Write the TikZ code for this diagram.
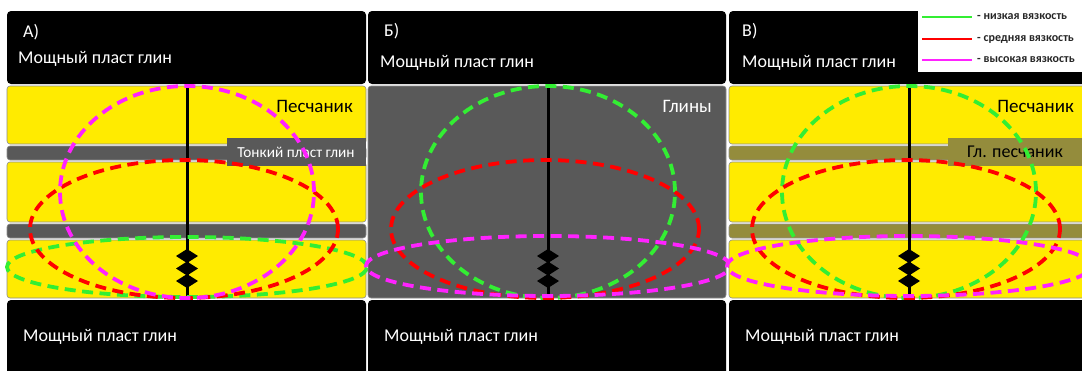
\documentclass[tikz,border=0pt]{standalone}
\usepackage{fontspec}
\setmainfont{Carlito}
\definecolor{sandY}{HTML}{FFEB00}
\definecolor{clayG}{HTML}{595959}
\definecolor{siltO}{HTML}{948C3C}
\definecolor{lowV}{HTML}{33EE33}
\definecolor{midV}{HTML}{FF0000}
\definecolor{highV}{HTML}{FF22FF}
\tikzset{
  shale/.style={fill=black, rounded corners=4pt},
  layer/.style={rounded corners=3pt, draw=black!45, line width=0.6pt},
  front/.style={dash pattern=on 11pt off 6.5pt, line width=3.8pt},
  wellbore/.style={line width=3pt, draw=black},
  bigtxt/.style={font=\fontsize{18}{20}\selectfont, text=white, inner sep=0pt, anchor=west},
  rocktxt/.style={font=\fontsize{19}{21}\selectfont, inner sep=0pt, anchor=east},
  legtxt/.style={font=\bfseries\fontsize{12}{14}\selectfont, inner sep=0pt, anchor=west, text=black!85},
}
% fracture: three stacked diamonds on the well
\newcommand\fracstack[1]{%
  \foreach \c in {256,268.5,281}{%
    \fill[black] (#1,\c-7) -- (#1+11,\c) -- (#1,\c+7) -- (#1-11,\c) -- cycle;}}
\begin{document}
\begin{tikzpicture}[x=1pt,y=-1pt]
\useasboundingbox (0,0) rectangle (1082,370);
\clip (0,0) rectangle (1082,370);
\fill[white] (0,0) rectangle (1082,370);

% ---------- panel A: sandstone with thin clay interlayers ----------
\begin{scope}[xshift=7pt]
  \fill[shale] (0,11) rectangle (359,84);
  \fill[shale] (0,300) rectangle (359,380);
  \filldraw[layer, fill=sandY] (0,86) rectangle (359,144);
  \filldraw[layer, fill=clayG] (0,146) rectangle (359,160);
  \filldraw[layer, fill=sandY] (0,162) rectangle (359,222);
  \filldraw[layer, fill=clayG] (0,224) rectangle (359,238);
  \filldraw[layer, fill=sandY] (0,240) rectangle (359,298);
  \node[bigtxt] (aTag) at (16,32) {А)};
  \node[bigtxt] (aTop) at (11,59) {Мощный пласт глин};
  \node[bigtxt] (aBot) at (16,337) {Мощный пласт глин};
  \node[rocktxt] (aSand) at (346,106) {Песчаник};
  \fill[clayG] (220,138) rectangle (359,166);
  \node[font=\fontsize{15.3}{17}\selectfont, inner sep=0pt, text=white] (aThin) at (289,152) {Тонкий пласт глин};
  \draw[wellbore] (180,86) -- (180,298);
  \fracstack{180}
  \draw[front, lowV] (180,267) ellipse [x radius=180pt, y radius=30pt];
  \draw[front, midV] (177,229) ellipse [x radius=154pt, y radius=69pt];
  \draw[front, highV] (180,192) ellipse [x radius=127pt, y radius=106pt];
\end{scope}

% ---------- panel B: uniform clays ----------
\begin{scope}[xshift=368pt]
  \fill[shale] (0,11) rectangle (358,84);
  \fill[shale] (0,300) rectangle (358,380);
  \filldraw[layer, fill=clayG] (0,86) rectangle (358,298);
  \node[bigtxt] (bTag) at (16,31) {Б)};
  \node[bigtxt] (bTop) at (12,63) {Мощный пласт глин};
  \node[bigtxt] (bBot) at (16,337) {Мощный пласт глин};
  \node[rocktxt, text=white] (bClay) at (344,106) {Глины};
  \draw[wellbore] (180,86) -- (180,298);
  \fracstack{180}
  \draw[front, lowV] (180,192) ellipse [x radius=127pt, y radius=106pt];
  \draw[front, midV] (177,229) ellipse [x radius=154pt, y radius=69pt];
  \draw[front, highV] (180,266) ellipse [x radius=182pt, y radius=30pt];
\end{scope}

% ---------- panel C: sandstone with clayey sandstone interlayers ----------
\begin{scope}[xshift=729pt]
  \fill[shale] (0,11) rectangle (370,84);
  \fill[shale] (0,300) rectangle (370,380);
  \filldraw[layer, fill=sandY] (0,86) rectangle (370,144);
  \filldraw[layer, fill=siltO] (0,146) rectangle (370,160);
  \filldraw[layer, fill=sandY] (0,162) rectangle (370,222);
  \filldraw[layer, fill=siltO] (0,224) rectangle (370,238);
  \filldraw[layer, fill=sandY] (0,240) rectangle (370,298);
  \node[bigtxt] (cTag) at (13,31) {В)};
  \node[bigtxt] (cTop) at (13,63) {Мощный пласт глин};
  \node[bigtxt] (cBot) at (16,337) {Мощный пласт глин};
  \node[rocktxt] (cSand) at (345,106) {Песчаник};
  \fill[siltO] (219,138) rectangle (370,166);
  \node[font=\fontsize{18}{20}\selectfont, inner sep=0pt] (cSilt) at (286,152) {Гл. песчаник};
  \draw[wellbore] (180,86) -- (180,298);
  \fracstack{180}
  \draw[front, lowV] (180,192) ellipse [x radius=127pt, y radius=106pt];
  \draw[front, midV] (177,229) ellipse [x radius=154pt, y radius=69pt];
  \draw[front, highV] (180,266) ellipse [x radius=182pt, y radius=30pt];
\end{scope}

% ---------- legend ----------
\fill[white] (918,0) rectangle (1082,72);
\coordinate (gA) at (922,17);  \coordinate (gB) at (972,17);
\coordinate (rA) at (922,39);  \coordinate (rB) at (972,39);
\coordinate (mA) at (922,60);  \coordinate (mB) at (972,60);
\draw[lowV, line width=2pt] (gA) -- (gB);
\draw[midV, line width=2pt] (rA) -- (rB);
\draw[highV, line width=2pt] (mA) -- (mB);
\node[legtxt] (lLow) at (977,17) {- низкая вязкость};
\node[legtxt] (lMid) at (977,39) {- средняя вязкость};
\node[legtxt] (lHigh) at (977,60) {- высокая вязкость};
\end{tikzpicture}
\end{document}
